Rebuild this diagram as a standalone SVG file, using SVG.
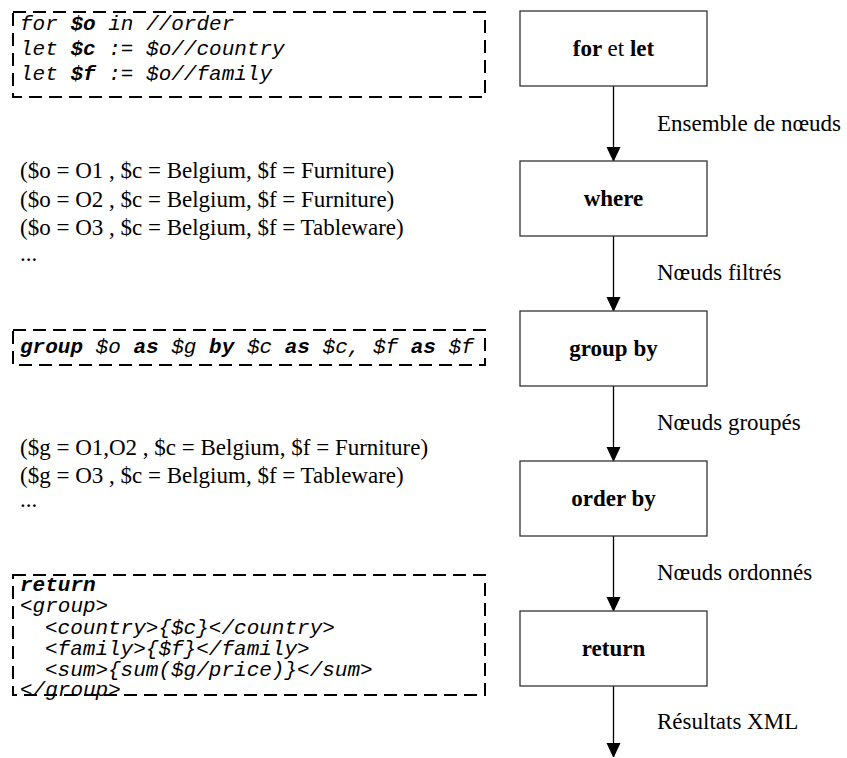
<svg xmlns="http://www.w3.org/2000/svg" width="847" height="758" viewBox="0 0 847 758">
  <style>
    .step { fill: #ffffff; stroke: #333333; stroke-width: 1.3; }
    .steplabel { font-family: "Liberation Serif", "Times New Roman", serif; font-size: 23px; font-weight: bold; fill: #000; text-anchor: middle; }
    .steplabel .normal { font-weight: normal; }
    .edge { stroke: #000; stroke-width: 1.3; fill: none; marker-end: url(#arrow); }
    .edgelabel { font-family: "Liberation Serif", "Times New Roman", serif; font-size: 23px; fill: #000; }
    .tuples { font-family: "Liberation Serif", "Times New Roman", serif; font-size: 23px; fill: #000; }
    .code { fill: none; stroke: #000; stroke-width: 2; stroke-dasharray: 13 7; }
    .codetext { font-family: "Liberation Mono", "Courier New", monospace; font-size: 21px; font-style: italic; fill: #000; }
    .kw { font-weight: bold; }
  </style>
  <defs>
    <marker id="arrow" markerUnits="userSpaceOnUse" markerWidth="14" markerHeight="16" refX="14" refY="7" orient="auto">
      <path d="M0,0 L15,7 L0,14 Z" fill="#000"/>
    </marker>
  </defs>

  <!-- pipeline connectors -->
  <g id="connectors">
    <line class="edge" x1="613.5" y1="86" x2="613.5" y2="161"/>
    <line class="edge" x1="613.5" y1="236" x2="613.5" y2="311"/>
    <line class="edge" x1="613.5" y1="386" x2="613.5" y2="461"/>
    <line class="edge" x1="613.5" y1="536" x2="613.5" y2="611"/>
    <line class="edge" x1="613.5" y1="686" x2="613.5" y2="757"/>
    <text class="edgelabel" x="657" y="131">Ensemble de nœuds</text>
    <text class="edgelabel" x="657" y="280">Nœuds filtrés</text>
    <text class="edgelabel" x="657" y="430">Nœuds groupés</text>
    <text class="edgelabel" x="657" y="580">Nœuds ordonnés</text>
    <text class="edgelabel" x="657" y="729">Résultats XML</text>
  </g>

  <!-- pipeline steps -->
  <g id="step-for-let">
    <rect class="step" x="520" y="11" width="187" height="75"/>
    <text class="steplabel" x="613.5" y="56">for <tspan class="normal">et</tspan> let</text>
  </g>
  <g id="step-where">
    <rect class="step" x="520" y="161" width="187" height="75"/>
    <text class="steplabel" x="613.5" y="206">where</text>
  </g>
  <g id="step-group-by">
    <rect class="step" x="520" y="311" width="187" height="75"/>
    <text class="steplabel" x="613.5" y="356">group by</text>
  </g>
  <g id="step-order-by">
    <rect class="step" x="520" y="461" width="187" height="75"/>
    <text class="steplabel" x="613.5" y="506">order by</text>
  </g>
  <g id="step-return">
    <rect class="step" x="520" y="611" width="187" height="75"/>
    <text class="steplabel" x="613.5" y="656">return</text>
  </g>

  <!-- query clauses -->
  <g id="code-for-let">
    <rect class="code" x="13" y="12" width="472" height="85"/>
    <text class="codetext" x="20" y="30">for <tspan class="kw">$o</tspan> in //order</text>
    <text class="codetext" x="20" y="55">let <tspan class="kw">$c</tspan> := $o//country</text>
    <text class="codetext" x="20" y="80">let <tspan class="kw">$f</tspan> := $o//family</text>
  </g>

  <g id="tuples-bindings">
    <text class="tuples" x="20" y="178">($o = O1 , $c = Belgium, $f = Furniture)</text>
    <text class="tuples" x="20" y="207">($o = O2 , $c = Belgium, $f = Furniture)</text>
    <text class="tuples" x="20" y="235">($o = O3 , $c = Belgium, $f = Tableware)</text>
    <text class="tuples" x="20" y="261">...</text>
  </g>

  <g id="code-group-by">
    <rect class="code" x="13" y="330" width="472" height="35"/>
    <text class="codetext" x="20" y="353"><tspan class="kw">group</tspan> $o <tspan class="kw">as</tspan> $g <tspan class="kw">by</tspan> $c <tspan class="kw">as</tspan> $c, $f <tspan class="kw">as</tspan> $f</text>
  </g>

  <g id="tuples-groups">
    <text class="tuples" x="20" y="455">($g = O1,O2 , $c = Belgium, $f = Furniture)</text>
    <text class="tuples" x="20" y="483">($g = O3 , $c = Belgium, $f = Tableware)</text>
    <text class="tuples" x="20" y="507">...</text>
  </g>

  <g id="code-return">
    <rect class="code" x="13" y="575" width="472" height="120"/>
    <text class="codetext kw" x="20" y="591">return</text>
    <text class="codetext" x="20" y="612">&lt;group&gt;</text>
    <text class="codetext" x="45" y="634">&lt;country&gt;{$c}&lt;/country&gt;</text>
    <text class="codetext" x="45" y="655">&lt;family&gt;{$f}&lt;/family&gt;</text>
    <text class="codetext" x="45" y="676">&lt;sum&gt;{sum($g/price)}&lt;/sum&gt;</text>
    <text class="codetext" x="20" y="696">&lt;/group&gt;</text>
  </g>
</svg>
